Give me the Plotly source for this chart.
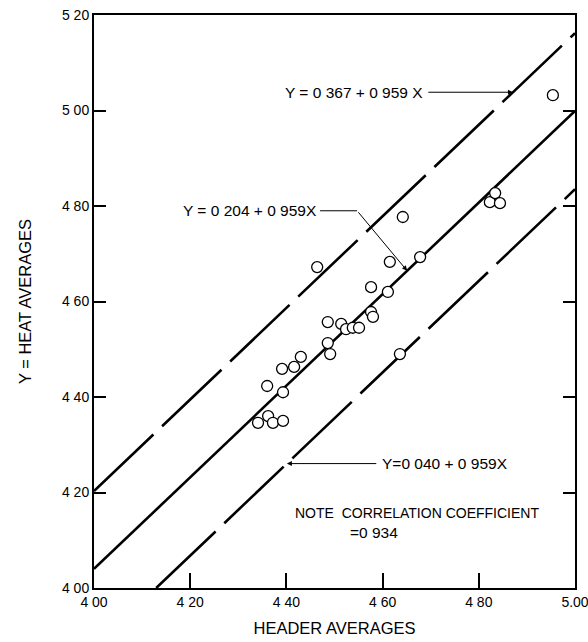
import plotly.graph_objects as go

# Data points (header average X, heat average Y)
header_avg = [4.341, 4.362, 4.372, 4.393, 4.360, 4.393, 4.391, 4.416, 4.430, 4.464,
              4.486, 4.491, 4.486, 4.514, 4.524, 4.538, 4.551, 4.576, 4.576, 4.580,
              4.611, 4.615, 4.642, 4.636, 4.678, 4.823, 4.834, 4.844, 4.954]
heat_avg = [4.346, 4.360, 4.346, 4.350, 4.423, 4.410, 4.459, 4.463, 4.484, 4.672,
            4.513, 4.490, 4.557, 4.553, 4.542, 4.545, 4.545, 4.630, 4.578, 4.568,
            4.620, 4.683, 4.777, 4.490, 4.693, 4.808, 4.827, 4.806, 5.032]

# Regression and limit lines: Y = a + b X
slope = 0.959
intercepts = [0.367, 0.204, 0.040]
line_dash = ["82px,12px", "solid", "82px,12px"]
line_labels = ["Y = 0 367 + 0 959 X", "Y = 0 204 + 0 959X", "Y=0 040 + 0 959X"]

x_ticks = [4.0, 4.2, 4.4, 4.6, 4.8, 5.0]
x_tick_text = ["4 00", "4 20", "4 40", "4 60", "4 80", "5.00"]
y_ticks = [4.0, 4.2, 4.4, 4.6, 4.8, 5.0, 5.2]
y_tick_text = ["4 00", "4 20", "4 40", "4 60", "4 80", "5 00", "5 20"]

X_MIN, X_MAX, Y_MIN, Y_MAX = 4.0, 5.0, 4.0, 5.2

FONT = "Liberation Sans, Arial, sans-serif"

fig = go.Figure()

for a, dash in zip(intercepts, line_dash):
    x0 = max(X_MIN, (Y_MIN - a) / slope)
    x1 = min(X_MAX, (Y_MAX - a) / slope)
    fig.add_trace(go.Scatter(x=[x0, x1], y=[a + slope * x0, a + slope * x1],
                             mode="lines", line=dict(color="black", width=2.6, dash=dash),
                             showlegend=False, hoverinfo="skip"))

fig.add_trace(go.Scatter(x=header_avg, y=heat_avg, mode="markers",
                         marker=dict(size=11, color="white", line=dict(color="black", width=1.3)),
                         showlegend=False))

eq_font = dict(family=FONT, size=15.5, color="black")
note_font = dict(family=FONT, size=14, color="black")

# Upper line label + arrow
xt = 4.871
fig.add_annotation(x=xt, y=intercepts[0] + slope * xt, ax=4.692, ay=intercepts[0] + slope * xt,
                   axref="x", ayref="y", xref="x", yref="y", text="", showarrow=True,
                   arrowhead=2, arrowsize=1, arrowwidth=1, arrowcolor="black", standoff=0)
fig.add_annotation(x=4.688, y=intercepts[0] + slope * xt, text=line_labels[0], showarrow=False,
                   xanchor="right", yanchor="middle", font=eq_font)

# Middle line label + leader
ym = 4.79
xt = 4.651
fig.add_shape(type="line", x0=4.470, x1=4.547, y0=ym, y1=ym, xref="x", yref="y",
              line=dict(color="black", width=1))
fig.add_annotation(x=xt, y=intercepts[1] + slope * xt, ax=4.547, ay=ym,
                   axref="x", ayref="y", xref="x", yref="y", text="", showarrow=True,
                   arrowhead=2, arrowsize=1, arrowwidth=1, arrowcolor="black", standoff=0)
fig.add_annotation(x=4.468, y=ym, text=line_labels[1], showarrow=False,
                   xanchor="right", yanchor="middle", font=eq_font)

# Lower line label + arrow
xt = 4.401
yl = intercepts[2] + slope * xt
fig.add_annotation(x=xt, y=yl, ax=4.590, ay=yl,
                   axref="x", ayref="y", xref="x", yref="y", text="", showarrow=True,
                   arrowhead=2, arrowsize=1, arrowwidth=1, arrowcolor="black", standoff=0)
fig.add_annotation(x=4.595, y=yl, text=line_labels[2], showarrow=False,
                   xanchor="left", yanchor="middle", font=eq_font)

# Note
fig.add_annotation(x=4.414, y=4.157, text="NOTE&nbsp;&nbsp;CORRELATION COEFFICIENT", showarrow=False,
                   xanchor="left", yanchor="middle", font=note_font)
fig.add_annotation(x=4.528, y=4.117, text="=0 934", showarrow=False,
                   xanchor="left", yanchor="middle", font=eq_font)

fig.update_xaxes(range=[X_MIN, X_MAX], tickvals=x_ticks, ticktext=x_tick_text,
                 ticks="inside", ticklen=15, tickwidth=1.5, tickcolor="black",
                 showline=True, linecolor="black", linewidth=2, mirror=True,
                 showgrid=False, zeroline=False, automargin=False, ticklabeloverflow="allow",
                 tickfont=dict(family=FONT, size=14, color="black"),
                 title=dict(text="HEADER AVERAGES", font=dict(family=FONT, size=16.5, color="black"),
                            standoff=14))
fig.update_yaxes(range=[Y_MIN, Y_MAX], tickvals=y_ticks, ticktext=y_tick_text,
                 ticks="inside", ticklen=12, tickwidth=1.5, tickcolor="black",
                 showline=True, linecolor="black", linewidth=2, mirror="ticks",
                 showgrid=False, zeroline=False, automargin=False, ticklabeloverflow="allow",
                 tickfont=dict(family=FONT, size=14, color="black"),
                 title=dict(text="Y = HEAT AVERAGES", font=dict(family=FONT, size=16.5, color="black"),
                            standoff=26))

fig.update_layout(width=588, height=642, margin=dict(l=94, r=13, t=15, b=54),
                  paper_bgcolor="white", plot_bgcolor="white", showlegend=False)

fig.write_html("out.html")
